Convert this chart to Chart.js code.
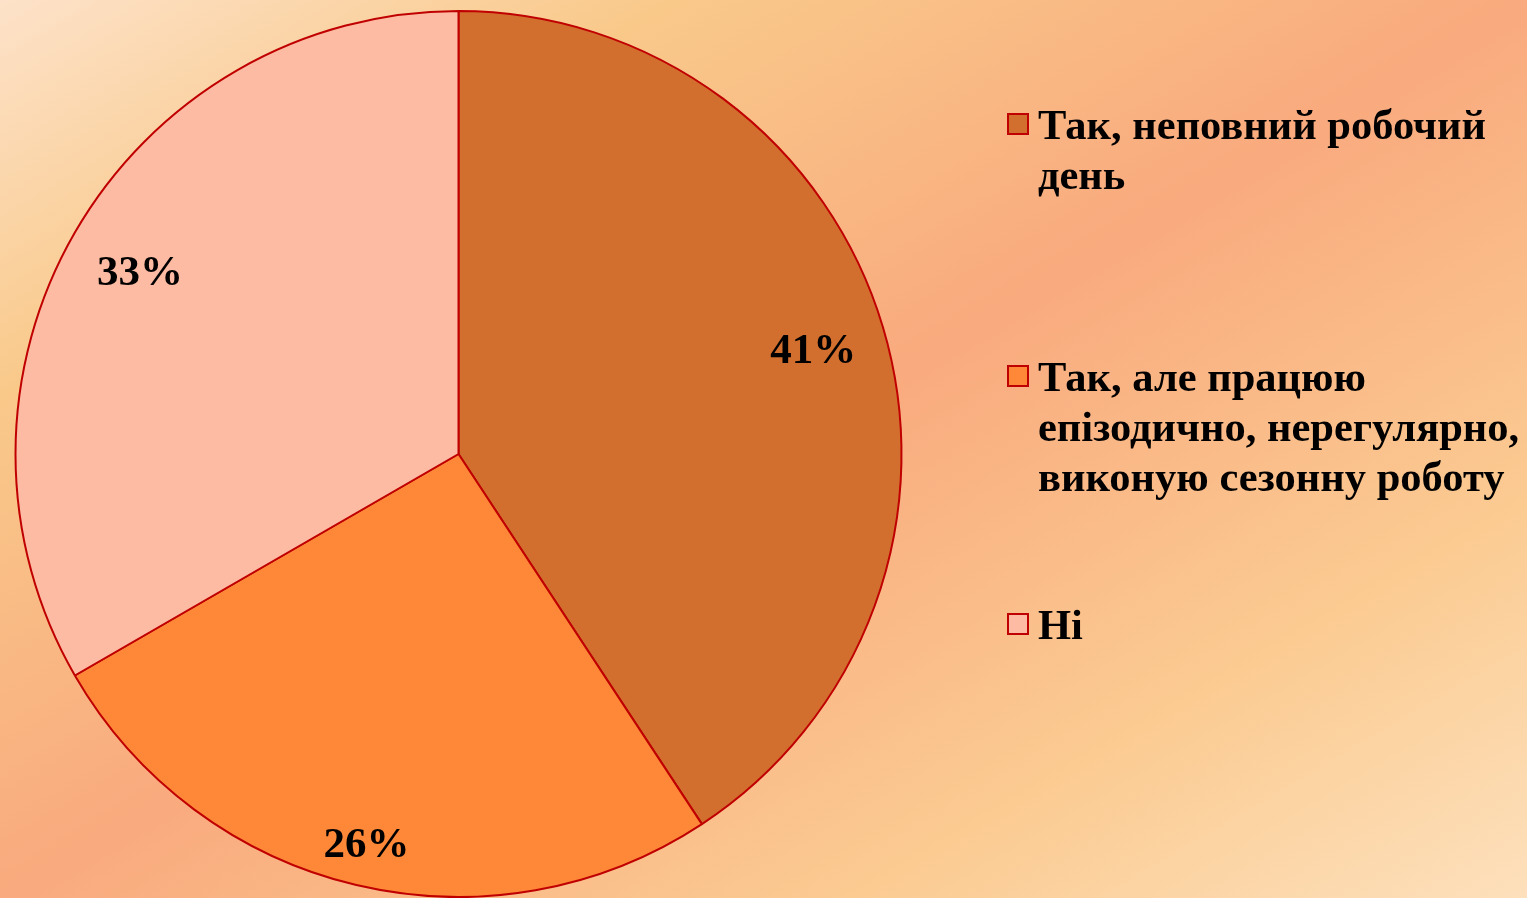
<!DOCTYPE html>
<html>
<head>
<meta charset="utf-8">
<script src="https://cdn.jsdelivr.net/npm/chart.js@4.4.0/dist/chart.umd.min.js"></script>
<style>
  html, body {
    margin: 0;
    padding: 0;
  }
  body {
    width: 1527px;
    height: 898px;
    overflow: hidden;
    position: relative;
    background: linear-gradient(to bottom right, #fde2c9 0%, #f9c98a 22%, #f9aa7e 50%, #fbcb92 78%, #fde0bc 100%);
  }
  #wrap {
    position: absolute;
    left: 0;
    top: 0;
    width: 1527px;
    height: 898px;
  }
  #legend {
    position: absolute;
    left: 1005px;
    top: 100px;
    width: 522px;
    font-family: 'Liberation Serif', 'Times New Roman', serif;
    font-weight: bold;
    font-size: 42.5px;
    line-height: 50px;
    color: #000;
    white-space: nowrap;
  }
  .item {
    position: absolute;
    left: 0;
    padding-left: 33px;
  }
  .box {
    position: absolute;
    left: 2px;
    top: 13px;
    width: 18px;
    height: 18px;
    border: 2px solid #c00000;
  }
</style>
</head>
<body>
<div id="wrap"><canvas id="pieChart" width="1527" height="898"></canvas></div>
<div id="legend"></div>
<script>
// data (answers counted per option; labels show rounded share)
var categories = ['Так, неповний робочий день', 'Так, але працюю епізодично, нерегулярно, виконую сезонну роботу', 'Ні'];
var legendLines = [
  ['Так, неповний робочий', 'день'],
  ['Так, але працюю', 'епізодично, нерегулярно,', 'виконую сезонну роботу'],
  ['Ні']
];
var counts = [11, 7, 9];
var sliceColors = ['#d26e2e', '#fe8838', '#fdbba3'];

// legend (html, so the text can wrap like the original)
var legendTops = [0, 252, 500];
var legendEl = document.getElementById('legend');
categories.forEach(function (c, i) {
  var item = document.createElement('div');
  item.className = 'item';
  item.style.top = legendTops[i] + 'px';
  item.title = c;
  var box = document.createElement('div');
  box.className = 'box';
  box.style.background = sliceColors[i];
  item.appendChild(box);
  item.insertAdjacentHTML('beforeend', legendLines[i].join('<br>'));
  legendEl.appendChild(item);
});

// percent labels inside the slices
var pctLabels = {
  id: 'pctLabels',
  afterDatasetsDraw: function (chart) {
    var ctx = chart.ctx;
    var meta = chart.getDatasetMeta(0);
    var total = counts.reduce(function (a, b) { return a + b; }, 0);
    var radiusFactor = [0.836, 0.9, 0.83];
    ctx.save();
    ctx.font = 'bold 43px "Liberation Serif", "Times New Roman", serif';
    ctx.fillStyle = '#000';
    ctx.textAlign = 'center';
    ctx.textBaseline = 'middle';
    meta.data.forEach(function (arc, i) {
      var p = arc.getProps(['x', 'y', 'startAngle', 'endAngle', 'outerRadius'], true);
      var mid = (p.startAngle + p.endAngle) / 2;
      var r = p.outerRadius * radiusFactor[i];
      var txt = Math.round(counts[i] / total * 100) + '%';
      ctx.fillText(txt, p.x + Math.cos(mid) * r, p.y + Math.sin(mid) * r + 4);
    });
    ctx.restore();
  }
};

var pctx = document.getElementById('pieChart').getContext('2d');
var pieChart = new Chart(pctx, {
  type: 'pie',
  data: {
    labels: categories,
    datasets: [{
      data: counts,
      backgroundColor: sliceColors,
      borderColor: '#c00000',
      borderWidth: 2
    }]
  },
  options: {
    responsive: false,
    animation: false,
    layout: {
      padding: {
        left: 13,
        top: 10,
        right: 623,
        bottom: -2
      }
    },
    plugins: {
      legend: {
        display: false
      },
      tooltip: {
        enabled: false
      }
    }
  },
  plugins: [pctLabels]
});
</script>
</body>
</html>
